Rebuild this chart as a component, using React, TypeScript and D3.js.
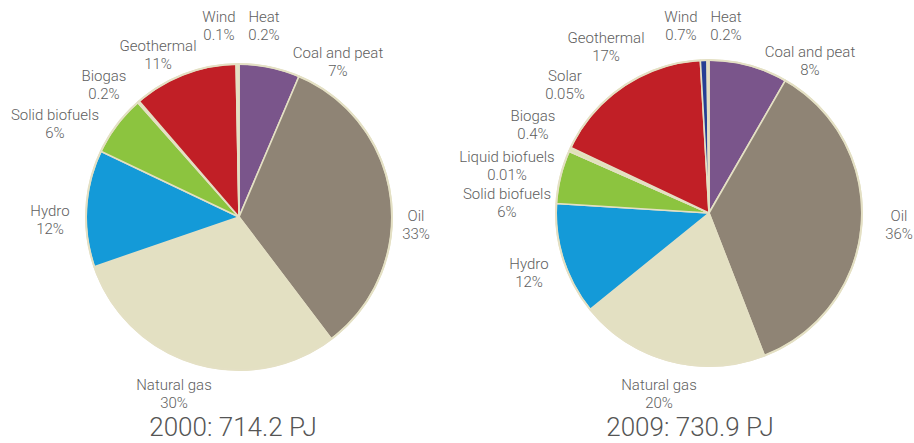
import React from "react";
import * as d3 from "d3";

// ---- Data ----
const categories2000 = ["Coal and peat", "Oil", "Natural gas", "Hydro", "Solid biofuels", "Biogas", "Geothermal", "Wind", "Heat"];
const values2000 = [6.4, 33.2, 30, 12.3, 6.4, 0.2, 11, 0.1, 0.2];
const pctLabels2000 = ["7%", "33%", "30%", "12%", "6%", "0.2%", "11%", "0.1%", "0.2%"];

const categories2009 = ["Coal and peat", "Oil", "Natural gas", "Hydro", "Solid biofuels", "Liquid biofuels", "Biogas", "Solar", "Geothermal", "Wind", "Heat"];
const values2009 = [8.3, 35.7, 20, 11.8, 5.6, 0.01, 0.4, 0.05, 17, 0.7, 0.2];
const pctLabels2009 = ["8%", "36%", "20%", "12%", "6%", "0.01%", "0.4%", "0.05%", "17%", "0.7%", "0.2%"];

const titles = ["2000: 714.2 PJ", "2009: 730.9 PJ"];

// ---- Styles ----
const colorMap: Record<string, string> = {
  "Coal and peat": "#7a558b",
  "Oil": "#8f8475",
  "Natural gas": "#e3e0c2",
  "Hydro": "#149ad8",
  "Solid biofuels": "#8cc43f",
  "Liquid biofuels": "#c9dc8f",
  "Biogas": "#dfe3b5",
  "Solar": "#efe8a8",
  "Geothermal": "#c11f26",
  "Wind": "#263f94",
  "Heat": "#e6e1c3",
};
const strokeColor = "#e4e0c4";
const textColor = "#5e5e5e";
const fontFamily = "Roboto, 'Open Sans', sans-serif";

// ---- Layout ----
const W = 914;
const H = 443;
const R = 153;
const centers = [
  { x: 239, y: 217 },
  { x: 709, y: 213 },
];
const titleX = [233, 690];
const titleY = 436;
const lineGap = 18;
// label anchor positions (center x, first baseline y)
const labelPos2000: [number, number][] = [
  [338, 58], [416, 221], [174, 390], [50, 216], [55, 120], [104, 81], [158, 51], [219, 22], [264, 22],
];
const labelPos2009: [number, number][] = [
  [810, 57], [899, 221], [659, 390], [529, 269], [507, 199], [507, 162], [533, 121], [565, 81], [606, 43], [681, 22], [726, 22],
];

type PieSpec = {
  cats: string[];
  vals: number[];
  pcts: string[];
  pos: [number, number][];
  c: { x: number; y: number };
  title: string;
  tx: number;
};

const specs: PieSpec[] = [
  { cats: categories2000, vals: values2000, pcts: pctLabels2000, pos: labelPos2000, c: centers[0], title: titles[0], tx: titleX[0] },
  { cats: categories2009, vals: values2009, pcts: pctLabels2009, pos: labelPos2009, c: centers[1], title: titles[1], tx: titleX[1] },
];

function Pie({ spec }: { spec: PieSpec }) {
  const data = spec.cats.map((name, i) => ({ name, value: spec.vals[i] }));
  const pie = d3
    .pie<{ name: string; value: number }>()
    .sort(null)
    .value((d) => d.value)
    .startAngle(0)
    .endAngle(2 * Math.PI);
  const arc = d3
    .arc<d3.PieArcDatum<{ name: string; value: number }>>()
    .innerRadius(0)
    .outerRadius(R);
  const arcs = pie(data);
  return (
    <g>
      <g transform={`translate(${spec.c.x},${spec.c.y})`}>
        {arcs.map((a, i) => (
          <path
            key={i}
            d={arc(a) || ""}
            fill={colorMap[a.data.name]}
            stroke={strokeColor}
            strokeWidth={1.6}
            strokeLinejoin="round"
          />
        ))}
        <circle r={R} fill="none" stroke={strokeColor} strokeWidth={2} />
      </g>
      {spec.cats.map((name, i) => (
        <text
          key={name}
          x={spec.pos[i][0]}
          y={spec.pos[i][1]}
          textAnchor="middle"
          fill={textColor}
          fontFamily={fontFamily}
          fontWeight={300}
          fontSize={15}
        >
          <tspan x={spec.pos[i][0]}>{name}</tspan>
          <tspan x={spec.pos[i][0]} dy={lineGap}>
            {spec.pcts[i]}
          </tspan>
        </text>
      ))}
      <text
        x={spec.tx}
        y={titleY}
        textAnchor="middle"
        fill="#555"
        fontFamily={fontFamily}
        fontWeight={300}
        fontSize={26}
      >
        {spec.title}
      </text>
    </g>
  );
}

export default function App() {
  return (
    <div style={{ position: "absolute", left: 0, top: 0, width: W, height: H, background: "#fff" }}>
      <svg width={W} height={H} viewBox={`0 0 ${W} ${H}`} style={{ display: "block" }}>
        <rect width={W} height={H} fill="#fff" />
        {specs.map((s, i) => (
          <Pie key={i} spec={s} />
        ))}
      </svg>
    </div>
  );
}
